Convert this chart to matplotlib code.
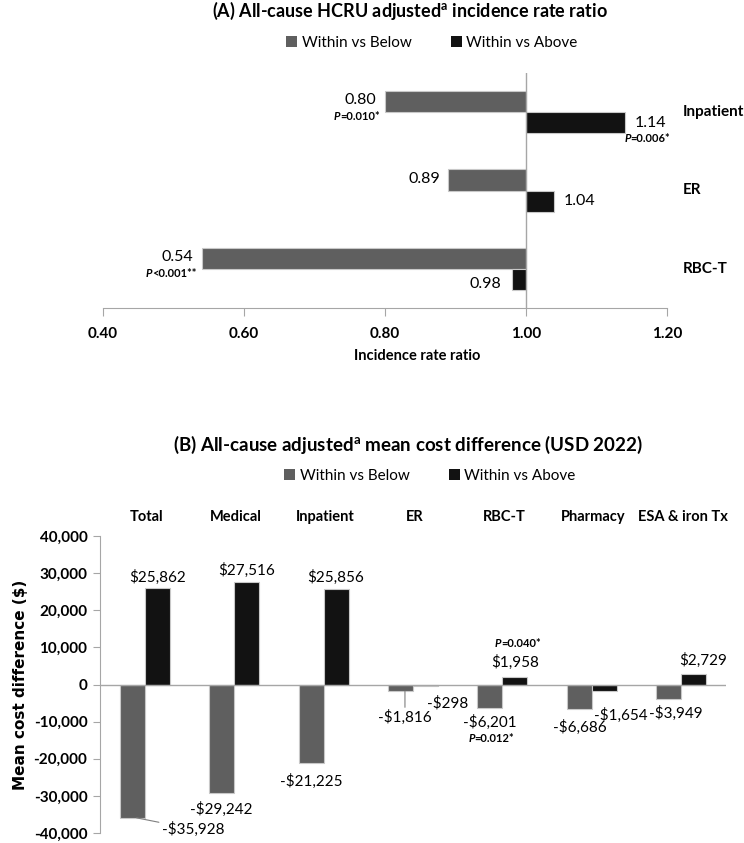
import matplotlib
matplotlib.use("Agg")
import matplotlib.pyplot as plt
from matplotlib.patches import Patch
from matplotlib.ticker import FuncFormatter
from matplotlib.transforms import blended_transform_factory
from matplotlib.offsetbox import TextArea, HPacker, AnnotationBbox

plt.rcParams["font.family"] = ["Lato", "DejaVu Sans"]
plt.rcParams["mathtext.fontset"] = "custom"
plt.rcParams["mathtext.rm"] = "Lato:bold"
plt.rcParams["mathtext.it"] = "Lato:italic:bold"
plt.rcParams["mathtext.bf"] = "Lato:bold"

# dados painel A
hcru_cats = ["Inpatient", "ER", "RBC-T"]
irr_below = [0.80, 0.89, 0.54]
irr_above = [1.14, 1.04, 0.98]
p_below = ["=0.010*", "", "<0.001**"]
p_above = ["=0.006*", "", ""]

# dados painel B
cost_cats = ["Total", "Medical", "Inpatient", "ER", "RBC-T", "Pharmacy", "ESA & iron Tx"]
cost_below = [-35928, -29242, -21225, -1816, -6201, -6686, -3949]
cost_above = [25862, 27516, 25856, -298, 1958, -1654, 2729]
p_cost_below = ["", "", "", "", "=0.012*", "", ""]
p_cost_above = ["", "", "", "", "=0.040*", "", ""]

GRAY = "#5f5f5f"
BLACK = "#121212"
AXC = "#a6a6a6"
W, H = 744, 843

fig = plt.figure(figsize=(W / 100, H / 100), dpi=100)


def fx(px):
    return px / W


def fy(py):
    return 1 - py / H


def p_label(ax, xy, rest, offset, align):
    # "P" em italico + resto em negrito
    pa = TextArea("P", textprops=dict(fontsize=8, fontweight="bold", fontstyle="italic"))
    pb = TextArea(rest, textprops=dict(fontsize=8, fontweight="bold"))
    box = HPacker(children=[pa, pb], pad=0, sep=-0.5, align="baseline")
    ab = AnnotationBbox(box, xy, xybox=offset, xycoords="data", boxcoords="offset points",
                        box_alignment=(align, 0.5), frameon=False, pad=0)
    ax.add_artist(ab)


# ---------------- Painel A ----------------
axA = fig.add_axes([fx(103), fy(308), fx(667) - fx(103), fy(73) - fy(308)])
ypos = [2, 1, 0]
bh = 0.27
for y, vb, va in zip(ypos, irr_below, irr_above):
    axA.barh(y + bh / 2, vb - 1.0, left=1.0, height=bh, color=GRAY, edgecolor="#c8c8c8", linewidth=0.8)
    axA.barh(y - bh / 2, va - 1.0, left=1.0, height=bh, color=BLACK, edgecolor="#c8c8c8", linewidth=0.8)

axA.set_xlim(0.40, 1.20)
axA.set_ylim(-0.5, 2.5)
axA.axvline(1.0, color=AXC, lw=1)
for s in ["left", "right", "top"]:
    axA.spines[s].set_visible(False)
axA.spines["bottom"].set_color(AXC)
axA.set_yticks([])
axA.set_xticks([0.40, 0.60, 0.80, 1.00, 1.20])
axA.xaxis.set_major_formatter(FuncFormatter(lambda v, p: f"{v:.2f}"))
axA.tick_params(axis="x", colors=AXC, length=6, pad=8)
for lab in axA.get_xticklabels():
    lab.set_color("black")
    lab.set_fontweight("bold")
    lab.set_fontsize(11)

for y, vb, va, pb, pa in zip(ypos, irr_below, irr_above, p_below, p_above):
    axA.annotate(f"{vb:.2f}", (vb, y + bh / 2), xytext=(-6, 1), textcoords="offset points",
                 ha="right", va="center", fontsize=11.5)
    if pb:
        p_label(axA, (vb, y + bh / 2), pb, (-4, -11), 1)
    if va >= 1:
        axA.annotate(f"{va:.2f}", (va, y - bh / 2), xytext=(7, 0), textcoords="offset points",
                     ha="left", va="center", fontsize=11.5)
    else:
        axA.annotate(f"{va:.2f}", (va, y - bh / 2), xytext=(-8, -3), textcoords="offset points",
                     ha="right", va="center", fontsize=11.5)
    if pa:
        p_label(axA, (va, y - bh / 2), pa, (0, -11), 0)

trA = blended_transform_factory(axA.transAxes, axA.transData)
for y, c in zip(ypos, hcru_cats):
    axA.text(1.028, y, c, transform=trA, ha="left", va="center", fontsize=11, fontweight="bold")

fig.text(fx(410), fy(11), "(A) All-cause HCRU adjusted$^{\\mathrm{a}}$ incidence rate ratio",
         ha="center", va="center", fontsize=13, fontweight="bold")
fig.text(fx(417), fy(356), "Incidence rate ratio", ha="center", va="center", fontsize=10.5, fontweight="bold")

handles = [Patch(facecolor=GRAY, label="Within vs Below"), Patch(facecolor=BLACK, label="Within vs Above")]
fig.legend(handles=handles, loc="center", bbox_to_anchor=(fx(432), fy(43)), ncol=2, frameon=False,
           fontsize=11, handlelength=0.7, handleheight=0.7, handletextpad=0.3, columnspacing=2.6)

# ---------------- Painel B ----------------
axB = fig.add_axes([fx(100), fy(833), fx(726) - fx(100), fy(536) - fy(833)])
xs = list(range(len(cost_cats)))
bw = 0.28
axB.bar([x - bw / 2 for x in xs], cost_below, width=bw, color=GRAY, edgecolor="#c8c8c8", linewidth=0.8)
axB.bar([x + bw / 2 for x in xs], cost_above, width=bw, color=BLACK, edgecolor="#c8c8c8", linewidth=0.8)
axB.set_xlim(-0.5, len(cost_cats) - 0.5)
axB.set_ylim(-40000, 40000)
axB.axhline(0, color=AXC, lw=1)
for s in ["right", "top", "bottom"]:
    axB.spines[s].set_visible(False)
axB.spines["left"].set_color(AXC)
axB.set_xticks([])
axB.set_yticks(range(-40000, 40001, 10000))
axB.yaxis.set_major_formatter(FuncFormatter(lambda v, p: f"{int(v):,}"))
axB.tick_params(axis="y", colors=AXC, length=5, pad=4)
for lab in axB.get_yticklabels():
    lab.set_color("black")
    lab.set_fontweight("bold")
    lab.set_fontsize(11)
axB.set_ylabel("Mean cost difference ($)", fontsize=11, fontweight="bold", family="DejaVu Sans", labelpad=4)


def money(v):
    return f"-${abs(v):,}" if v < 0 else f"${v:,}"


# deslocamentos dos rotulos (pontos)
off_below = [(18, -8), (0, -12), (0, -13), (0, -19), (0, -11), (0, -13), (5, -10)]
leader_below = [True, False, False, True, False, False, False]
off_above = [(0, 8), (0, 9), (0, 8), (16, -13), (0, 11), (12, -18), (7, 10)]

for x, v, o, ld in zip(xs, cost_below, off_below, leader_below):
    if ld:
        axB.annotate(money(v), (x - bw / 2 + 0.05, v), xytext=o, textcoords="offset points",
                     ha="left" if x == 0 else "center", va="center", fontsize=11,
                     arrowprops=dict(arrowstyle="-", color="#7f7f7f", lw=0.8, shrinkA=0, shrinkB=0))
    else:
        axB.annotate(money(v), (x - bw / 2, v), xytext=o, textcoords="offset points",
                     ha="center", va="center", fontsize=11)
for x, v, o in zip(xs, cost_above, off_above):
    axB.annotate(money(v), (x + bw / 2, v), xytext=o, textcoords="offset points",
                 ha="center", va="center", fontsize=11)
for x, v, p in zip(xs, cost_below, p_cost_below):
    if p:
        p_label(axB, (x - bw / 2, v), p, (1, -22), 0.5)
for x, v, p in zip(xs, cost_above, p_cost_above):
    if p:
        p_label(axB, (x + bw / 2, v), p, (2, 24), 0.5)

trB = blended_transform_factory(axB.transData, axB.transAxes)
for x, c in zip(xs, cost_cats):
    axB.text(x + 0.02, 1.064, c, transform=trB, ha="center", va="center", fontsize=10.5, fontweight="bold")

fig.text(fx(408), fy(445), "(B) All-cause adjusted$^{\\mathrm{a}}$ mean cost difference (USD 2022)",
         ha="center", va="center", fontsize=13.5, fontweight="bold")
fig.legend(handles=handles, loc="center", bbox_to_anchor=(fx(430), fy(476)), ncol=2, frameon=False,
           fontsize=11, handlelength=0.7, handleheight=0.7, handletextpad=0.3, columnspacing=2.6)

fig.savefig("out.png", dpi=100)
